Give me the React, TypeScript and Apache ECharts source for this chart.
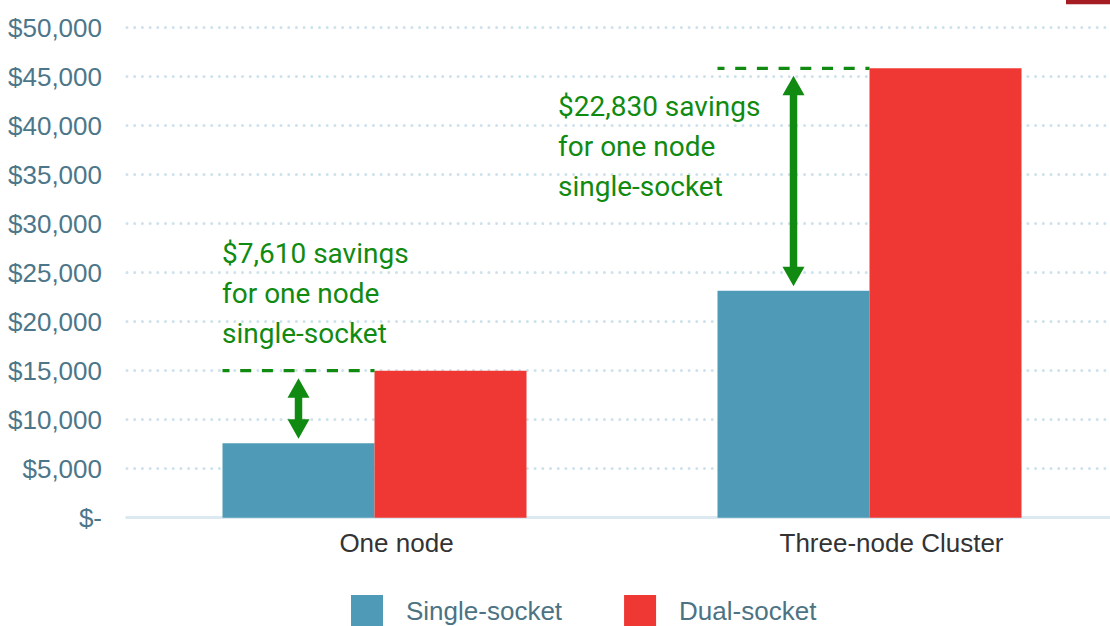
import React, { useEffect, useRef } from "react";
import * as echarts from "echarts";

const categories = ["One node", "Three-node Cluster"];
const singleSocket = [7600, 23150];
const dualSocket = [15000, 45850];
const seriesNames = ["Single-socket", "Dual-socket"];
const annotations = [
  "$7,610 savings\nfor one node\nsingle-socket",
  "$22,830 savings\nfor one node\nsingle-socket",
];

const GREEN = "#118a11";
const BAR_W = 152;

export default function App() {
  const ref = useRef<HTMLDivElement>(null);
  useEffect(() => {
    document.body.style.margin = "0";
    const chart = echarts.init(ref.current!, null, { renderer: "svg" });
    chart.setOption({
      animation: false,
      grid: { left: 127, width: 990, top: 27.7, height: 490, outerBoundsMode: "none", containLabel: false },
      legend: {
        data: seriesNames,
        left: 351,
        top: 595,
        padding: 0,
        itemWidth: 32,
        itemHeight: 32,
        itemGap: 62,
        icon: "rect",
        textStyle: { fontSize: 26, color: "#4c7383", fontFamily: "Liberation Sans", padding: [0, 0, 0, 18] },
      },
      xAxis: {
        type: "category",
        data: categories,
        axisLine: { lineStyle: { color: "#dce9f0", width: 3 } },
        axisTick: { show: false },
        axisLabel: {
          fontSize: 26,
          color: "#333333",
          fontFamily: "Liberation Sans",
          margin: 12,
          padding: [0, 0, 0, 44],
        },
      },
      yAxis: {
        type: "value",
        min: 0,
        max: 50000,
        interval: 5000,
        axisLine: { show: false },
        axisTick: { show: false },
        axisLabel: {
          fontSize: 26,
          color: "#4c7689",
          fontFamily: "Liberation Sans",
          margin: 25,
          formatter: (v: number) => (v === 0 ? "$-" : "$" + v.toLocaleString("en-US")),
        },
        splitLine: {
          lineStyle: { color: "#cde2ec", width: 3, type: [0, 7.7], cap: "round" },
        },
      },
      series: [
        {
          name: seriesNames[0],
          type: "bar",
          data: singleSocket,
          barWidth: BAR_W,
          barGap: "0%",
          itemStyle: { color: "#4f9ab6" },
        },
        {
          name: seriesNames[1],
          type: "bar",
          data: dualSocket,
          barWidth: BAR_W,
          barGap: "0%",
          itemStyle: { color: "#ef3833" },
        },
      ],
    });

    const graphics: any[] = [
      { type: "rect", shape: { x: 1066, y: 0, width: 44, height: 4.3 }, style: { fill: "#a51c22" } },
    ];
    const textPos = [
      { x: 222, y: 233 },
      { x: 558, y: 86 },
    ];
    categories.forEach((c, i) => {
      const cx = chart.convertToPixel({ xAxisIndex: 0 }, c) as number;
      const yDual = chart.convertToPixel({ yAxisIndex: 0 }, dualSocket[i]) as number;
      const ySingle = chart.convertToPixel({ yAxisIndex: 0 }, singleSocket[i]) as number;
      const ax = cx - BAR_W / 2;
      const top = yDual + 7.5;
      const bot = ySingle - 4.5;
      const hh = 19.5;
      const hw = 11;
      graphics.push({
        type: "line",
        shape: { x1: cx - BAR_W, y1: yDual, x2: cx, y2: yDual },
        style: { stroke: GREEN, lineWidth: 3.3, lineDash: [11, 10.7], lineDashOffset: 4 },
        z: 100,
      });
      graphics.push({
        type: "line",
        shape: { x1: ax, y1: top + hh - 1, x2: ax, y2: bot - hh + 1 },
        style: { stroke: GREEN, lineWidth: 7.5 },
        z: 100,
      });
      graphics.push({
        type: "polygon",
        shape: { points: [[ax, top], [ax - hw, top + hh], [ax + hw, top + hh]] },
        style: { fill: GREEN },
        z: 100,
      });
      graphics.push({
        type: "polygon",
        shape: { points: [[ax, bot], [ax - hw, bot - hh], [ax + hw, bot - hh]] },
        style: { fill: GREEN },
        z: 100,
      });
      graphics.push({
        type: "text",
        x: textPos[i].x,
        y: textPos[i].y,
        style: {
          text: annotations[i],
          fill: GREEN,
          font: "28px Roboto",
          lineHeight: 40,
          verticalAlign: "top",
          align: "left",
        },
        z: 100,
      });
    });
    chart.setOption({ graphic: graphics });
    return () => chart.dispose();
  }, []);
  return <div ref={ref} style={{ width: 1110, height: 626 }} />;
}
